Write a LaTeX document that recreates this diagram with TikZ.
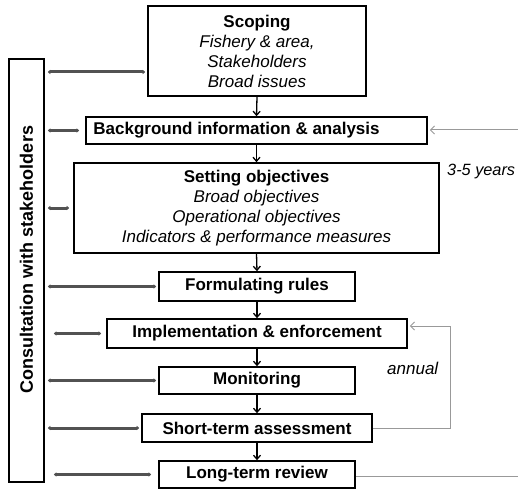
\documentclass[tikz,border=0pt]{standalone}
\usepackage{fontspec}
\setmainfont{Liberation Sans}
\usetikzlibrary{arrows.meta,calc}
\begin{document}
\begin{tikzpicture}[x=1pt,y=-1pt,
  stagebox/.style={draw=black,line width=1.6pt,inner sep=0pt,align=center,font=\fontsize{17}{20}\selectfont},
  flow/.style={line width=1.3pt,-{Straight Barb[length=4pt,width=7pt]}},
  carrow/.style={draw=black!68,line width=3pt,{Latex[length=2.5pt,width=5pt]}-{Latex[length=2.5pt,width=5pt]}},
  fb/.style={draw=black!40,line width=1pt},
  fbarrow/.style={fb,-{Straight Barb[length=4pt,width=8pt]}},
  lbl/.style={font=\itshape\fontsize{17}{20}\selectfont,inner sep=0pt}]
\useasboundingbox (0,0) rectangle (518,489);
\node[stagebox,minimum width=218pt,minimum height=90pt] (scope) at (257,51)
  {\textbf{Scoping}\\\textit{Fishery \& area,}\\\textit{Stakeholders}\\\textit{Broad issues}};
\node[stagebox,minimum width=341pt,minimum height=27pt] (bg) at (256.5,130.5)
  {\hspace*{-40pt}\textbf{Background information \& analysis}};
\node[stagebox,minimum width=365pt,minimum height=90pt] (obj) at (256.5,208)
  {\textbf{Setting objectives}\\\textit{Broad objectives}\\\textit{Operational objectives}\\\textit{Indicators \& performance measures}};
\node[stagebox,minimum width=196pt,minimum height=29pt] (rules) at (257,286.5)
  {\textbf{Formulating rules}};
\node[stagebox,minimum width=300pt,minimum height=29pt] (impl) at (257,333.5)
  {\textbf{Implementation \& enforcement}};
\node[stagebox,minimum width=196pt,minimum height=27pt] (mon) at (257,380.5)
  {\textbf{Monitoring}};
\node[stagebox,minimum width=230pt,minimum height=28pt] (short) at (257,428)
  {\textbf{Short-term assessment}};
\node[stagebox,minimum width=196pt,minimum height=27pt] (long) at (257,474.5)
  {\textbf{Long-term review}};
\node[stagebox,minimum width=35pt,minimum height=423pt] (consult) at (26.5,270.5) {};
\node[rotate=90,font=\bfseries\fontsize{18}{20}\selectfont,inner sep=0pt] (ctext) at (26.5,259.5)
  {Consultation with stakeholders};
% vertical flow
\draw[flow] (scope.south) -- (bg.north);
\draw[flow] (bg.south) -- (obj.north);
\draw[flow] (obj.south) -- (rules.north);
\draw[flow] (rules.south) -- (impl.north);
\draw[flow] (impl.south) -- (mon.north);
\draw[flow] (mon.south) -- (short.north);
\draw[flow] (short.south) -- (long.north);
% consultation arrows
\draw[carrow] ([xshift=3pt]consult.east |- 0,72) -- ([xshift=-2pt]scope.west |- 0,72);
\draw[carrow] ([xshift=3pt]consult.east |- bg.west) -- ([xshift=-6pt]bg.west);
\draw[carrow] ([xshift=3pt]consult.east |- obj.west) -- ([xshift=-4pt]obj.west);
\draw[carrow] ([xshift=3pt]consult.east |- rules.west) -- ([xshift=-2pt]rules.west);
\draw[carrow] ([xshift=9pt]consult.east |- impl.west) -- ([xshift=-5pt]impl.west);
\draw[carrow] ([xshift=3pt]consult.east |- mon.west) -- ([xshift=-2pt]mon.west);
\draw[carrow] ([xshift=3pt]consult.east |- short.west) -- ([xshift=-2pt]short.west);
\draw[carrow] ([xshift=9pt]consult.east |- long.west) -- ([xshift=-7pt]long.west);
% feedback loops
\coordinate (fbtop) at (518,130);
\coordinate (fbbot) at (518,476);
\draw[fbarrow] (fbtop) -- ([xshift=2pt]bg.east |- fbtop);
\draw[fb] (long.east |- fbbot) -- (fbbot);
\coordinate (annx) at (450,0);
\draw[fbarrow] (short.east) -- (annx |- short.east) -- (annx |- 0,326) -- ([xshift=2pt]impl.east |- 0,326);
\node[lbl,anchor=west,font=\itshape\fontsize{16.3}{19}\selectfont] (yrs) at (447,171) {3-5 years};
\node[lbl,anchor=west] (ann) at (387,368) {annual};
\end{tikzpicture}
\end{document}
